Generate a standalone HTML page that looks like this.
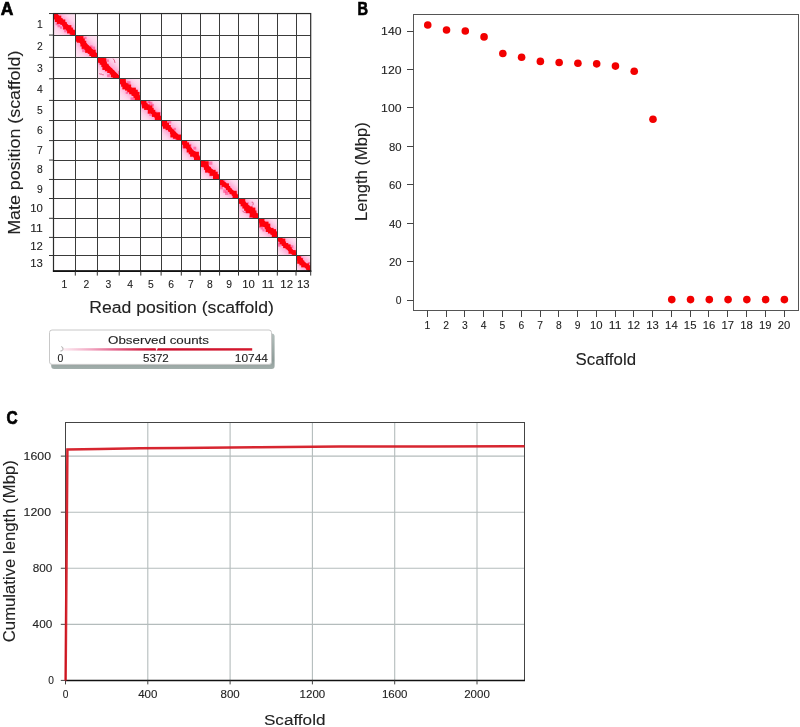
<!DOCTYPE html>
<html><head><meta charset="utf-8"><style>
html,body{margin:0;padding:0;background:#fff;}
body{width:800px;height:727px;overflow:hidden;}
svg{display:block;font-family:"Liberation Sans", sans-serif;will-change:transform;}
</style></head><body>
<svg width="800" height="727" viewBox="0 0 800 727">
<defs>
<linearGradient id="pk" x1="1" y1="0" x2="0" y2="1">
<stop offset="0" stop-color="#fde6f3"/><stop offset="0.5" stop-color="#ffc8e6"/><stop offset="1" stop-color="#fde6f3"/>
</linearGradient>
<linearGradient id="lg" x1="0" y1="0" x2="1" y2="0">
<stop offset="0" stop-color="#fcecf2"/><stop offset="0.14" stop-color="#f2aac4"/><stop offset="0.275" stop-color="#e2628a"/><stop offset="0.41" stop-color="#d42a4a"/><stop offset="0.49" stop-color="#cc1030"/><stop offset="1" stop-color="#d4182c"/>
</linearGradient>
<linearGradient id="shd" x1="0" y1="0" x2="0" y2="1">
<stop offset="0" stop-color="#b4bfbc"/><stop offset="0.75" stop-color="#8e9c99"/><stop offset="1" stop-color="#a3afac"/>
</linearGradient>
<filter id="soft" x="-20%" y="-20%" width="140%" height="140%"><feGaussianBlur stdDeviation="0.7"/></filter><filter id="soft2" x="-30%" y="-30%" width="160%" height="160%"><feGaussianBlur stdDeviation="2"/></filter>
</defs>
<rect x="53.5" y="13.55" width="257.2" height="257.55" fill="#fffeff"/>
<clipPath id="cc0"><rect x="53.50" y="13.55" width="21.80" height="21.52"/></clipPath>
<g clip-path="url(#cc0)">
<rect x="53.50" y="13.55" width="21.80" height="21.52" fill="url(#pk)"/>
<line x1="50.50" y1="10.55" x2="78.30" y2="38.07" stroke="#ff6cb0" stroke-opacity="0.42" stroke-width="11" filter="url(#soft2)"/>
<g filter="url(#soft)">
<rect x="51.95" y="14.66" width="2.41" height="2.41" fill="#ff3a80" opacity="0.55"/>
<rect x="56.47" y="14.19" width="2.30" height="2.30" fill="#ff3a80" opacity="0.55"/>
<rect x="57.37" y="16.81" width="2.71" height="2.71" fill="#ff3a80" opacity="0.55"/>
<rect x="55.62" y="22.30" width="2.91" height="2.91" fill="#ff3a80" opacity="0.55"/>
<rect x="57.50" y="24.47" width="2.81" height="2.81" fill="#ff3a80" opacity="0.55"/>
<rect x="59.97" y="26.42" width="2.33" height="2.33" fill="#ff3a80" opacity="0.55"/>
<rect x="64.13" y="25.16" width="3.36" height="3.36" fill="#ff3a80" opacity="0.55"/>
<rect x="64.25" y="29.83" width="2.51" height="2.51" fill="#ff3a80" opacity="0.55"/>
<rect x="69.55" y="27.45" width="3.53" height="3.53" fill="#ff3a80" opacity="0.55"/>
<rect x="71.54" y="30.17" width="2.76" height="2.76" fill="#ff3a80" opacity="0.55"/>
<rect x="76.80" y="29.34" width="2.27" height="2.27" fill="#ff3a80" opacity="0.55"/>
<line x1="50.50" y1="10.55" x2="78.30" y2="38.07" stroke="#ff000e" stroke-width="4.61"/>
<rect x="52.70" y="11.31" width="5.01" height="5.01" fill="#ff0008"/>
<rect x="53.48" y="14.91" width="4.57" height="4.57" fill="#ff0008"/>
<rect x="54.89" y="15.65" width="6.36" height="6.36" fill="#ff0008"/>
<rect x="56.92" y="18.16" width="5.76" height="5.76" fill="#ff0008"/>
<rect x="60.09" y="19.47" width="5.22" height="5.22" fill="#ff0008"/>
<rect x="62.28" y="22.00" width="4.43" height="4.43" fill="#ff0008"/>
<rect x="63.10" y="24.75" width="4.79" height="4.79" fill="#ff0008"/>
<rect x="66.04" y="25.18" width="5.36" height="5.36" fill="#ff0008"/>
<rect x="67.09" y="27.67" width="5.77" height="5.77" fill="#ff0008"/>
<rect x="69.72" y="29.71" width="5.03" height="5.03" fill="#ff0008"/>
<rect x="71.87" y="30.48" width="6.06" height="6.06" fill="#ff0008"/>
</g>
</g>
<clipPath id="cc1"><rect x="75.30" y="35.07" width="22.00" height="22.18"/></clipPath>
<g clip-path="url(#cc1)">
<rect x="75.30" y="35.07" width="22.00" height="22.18" fill="url(#pk)"/>
<line x1="72.30" y1="32.07" x2="100.30" y2="60.25" stroke="#ff6cb0" stroke-opacity="0.42" stroke-width="11" filter="url(#soft2)"/>
<g filter="url(#soft)">
<rect x="72.77" y="36.44" width="3.00" height="3.00" fill="#ff3a80" opacity="0.55"/>
<rect x="76.53" y="35.94" width="3.43" height="3.43" fill="#ff3a80" opacity="0.55"/>
<rect x="80.33" y="36.65" width="2.60" height="2.60" fill="#ff3a80" opacity="0.55"/>
<rect x="84.18" y="36.71" width="2.37" height="2.37" fill="#ff3a80" opacity="0.55"/>
<rect x="81.30" y="42.38" width="3.26" height="3.26" fill="#ff3a80" opacity="0.55"/>
<rect x="81.30" y="46.44" width="2.88" height="2.88" fill="#ff3a80" opacity="0.55"/>
<rect x="82.15" y="49.02" width="3.14" height="3.14" fill="#ff3a80" opacity="0.55"/>
<rect x="89.56" y="45.42" width="3.00" height="3.00" fill="#ff3a80" opacity="0.55"/>
<rect x="92.42" y="46.61" width="2.64" height="2.64" fill="#ff3a80" opacity="0.55"/>
<rect x="92.68" y="49.63" width="3.03" height="3.03" fill="#ff3a80" opacity="0.55"/>
<rect x="93.74" y="52.45" width="2.84" height="2.84" fill="#ff3a80" opacity="0.55"/>
<rect x="97.21" y="51.98" width="3.52" height="3.52" fill="#ff3a80" opacity="0.55"/>
<line x1="72.30" y1="32.07" x2="100.30" y2="60.25" stroke="#ff000e" stroke-width="4.46"/>
<rect x="73.27" y="33.16" width="5.78" height="5.78" fill="#ff0008"/>
<rect x="74.23" y="35.78" width="5.87" height="5.87" fill="#ff0008"/>
<rect x="76.88" y="36.10" width="6.60" height="6.60" fill="#ff0008"/>
<rect x="79.94" y="38.48" width="4.84" height="4.84" fill="#ff0008"/>
<rect x="80.43" y="40.72" width="5.79" height="5.79" fill="#ff0008"/>
<rect x="81.79" y="43.55" width="5.28" height="5.28" fill="#ff0008"/>
<rect x="84.34" y="45.54" width="4.42" height="4.42" fill="#ff0008"/>
<rect x="85.15" y="46.80" width="6.04" height="6.04" fill="#ff0008"/>
<rect x="87.77" y="49.15" width="4.75" height="4.75" fill="#ff0008"/>
<rect x="89.35" y="49.70" width="6.29" height="6.29" fill="#ff0008"/>
<rect x="91.09" y="52.69" width="5.25" height="5.25" fill="#ff0008"/>
<rect x="93.32" y="53.06" width="6.32" height="6.32" fill="#ff0008"/>
</g>
</g>
<clipPath id="cc2"><rect x="97.30" y="57.25" width="21.90" height="21.55"/></clipPath>
<g clip-path="url(#cc2)">
<rect x="97.30" y="57.25" width="21.90" height="21.55" fill="url(#pk)"/>
<line x1="94.30" y1="54.25" x2="122.20" y2="81.80" stroke="#ff6cb0" stroke-opacity="0.42" stroke-width="11" filter="url(#soft2)"/>
<g filter="url(#soft)">
<rect x="99.02" y="54.10" width="3.41" height="3.41" fill="#ff3a80" opacity="0.55"/>
<rect x="97.21" y="60.48" width="2.78" height="2.78" fill="#ff3a80" opacity="0.55"/>
<rect x="99.48" y="61.50" width="3.44" height="3.44" fill="#ff3a80" opacity="0.55"/>
<rect x="106.54" y="59.42" width="2.41" height="2.41" fill="#ff3a80" opacity="0.55"/>
<rect x="102.54" y="67.26" width="2.52" height="2.52" fill="#ff3a80" opacity="0.55"/>
<rect x="104.78" y="68.61" width="2.88" height="2.88" fill="#ff3a80" opacity="0.55"/>
<rect x="109.63" y="68.02" width="2.57" height="2.57" fill="#ff3a80" opacity="0.55"/>
<rect x="107.07" y="74.32" width="2.79" height="2.79" fill="#ff3a80" opacity="0.55"/>
<rect x="111.73" y="73.40" width="2.99" height="2.99" fill="#ff3a80" opacity="0.55"/>
<rect x="118.07" y="70.83" width="3.17" height="3.17" fill="#ff3a80" opacity="0.55"/>
<rect x="116.79" y="76.17" width="3.06" height="3.06" fill="#ff3a80" opacity="0.55"/>
<line x1="94.30" y1="54.25" x2="122.20" y2="81.80" stroke="#ff000e" stroke-width="4.75"/>
<rect x="96.38" y="55.61" width="4.54" height="4.54" fill="#ff0008"/>
<rect x="97.86" y="56.16" width="6.46" height="6.46" fill="#ff0008"/>
<rect x="99.77" y="58.15" width="6.51" height="6.51" fill="#ff0008"/>
<rect x="101.33" y="61.60" width="5.45" height="5.45" fill="#ff0008"/>
<rect x="102.43" y="63.82" width="6.07" height="6.07" fill="#ff0008"/>
<rect x="105.09" y="66.61" width="4.58" height="4.58" fill="#ff0008"/>
<rect x="107.24" y="68.15" width="4.83" height="4.83" fill="#ff0008"/>
<rect x="109.64" y="69.99" width="4.54" height="4.54" fill="#ff0008"/>
<rect x="110.82" y="72.50" width="4.80" height="4.80" fill="#ff0008"/>
<rect x="112.74" y="73.98" width="5.36" height="5.36" fill="#ff0008"/>
<rect x="113.90" y="75.42" width="6.71" height="6.71" fill="#ff0008"/>
</g>
</g>
<clipPath id="cc3"><rect x="119.20" y="78.80" width="21.60" height="21.60"/></clipPath>
<g clip-path="url(#cc3)">
<rect x="119.20" y="78.80" width="21.60" height="21.60" fill="url(#pk)"/>
<line x1="116.20" y1="75.80" x2="143.80" y2="103.40" stroke="#ff6cb0" stroke-opacity="0.42" stroke-width="11" filter="url(#soft2)"/>
<g filter="url(#soft)">
<rect x="119.84" y="77.71" width="2.41" height="2.41" fill="#ff3a80" opacity="0.55"/>
<rect x="118.92" y="82.29" width="2.69" height="2.69" fill="#ff3a80" opacity="0.55"/>
<rect x="121.89" y="83.56" width="2.37" height="2.37" fill="#ff3a80" opacity="0.55"/>
<rect x="126.93" y="81.23" width="3.59" height="3.59" fill="#ff3a80" opacity="0.55"/>
<rect x="126.34" y="86.46" width="2.88" height="2.88" fill="#ff3a80" opacity="0.55"/>
<rect x="125.68" y="91.58" width="2.34" height="2.34" fill="#ff3a80" opacity="0.55"/>
<rect x="129.48" y="91.47" width="2.57" height="2.57" fill="#ff3a80" opacity="0.55"/>
<rect x="135.21" y="89.81" width="2.43" height="2.43" fill="#ff3a80" opacity="0.55"/>
<rect x="130.50" y="97.35" width="3.53" height="3.53" fill="#ff3a80" opacity="0.55"/>
<rect x="136.87" y="96.04" width="2.41" height="2.41" fill="#ff3a80" opacity="0.55"/>
<rect x="139.03" y="97.97" width="2.24" height="2.24" fill="#ff3a80" opacity="0.55"/>
<line x1="116.20" y1="75.80" x2="143.80" y2="103.40" stroke="#ff000e" stroke-width="4.46"/>
<rect x="116.96" y="76.45" width="6.56" height="6.56" fill="#ff0008"/>
<rect x="119.94" y="78.09" width="5.86" height="5.86" fill="#ff0008"/>
<rect x="121.11" y="81.67" width="5.04" height="5.04" fill="#ff0008"/>
<rect x="122.38" y="83.31" width="6.05" height="6.05" fill="#ff0008"/>
<rect x="125.07" y="84.54" width="6.07" height="6.07" fill="#ff0008"/>
<rect x="127.32" y="87.60" width="4.69" height="4.69" fill="#ff0008"/>
<rect x="129.30" y="87.65" width="6.58" height="6.58" fill="#ff0008"/>
<rect x="131.57" y="89.76" width="6.13" height="6.13" fill="#ff0008"/>
<rect x="133.54" y="91.87" width="5.97" height="5.97" fill="#ff0008"/>
<rect x="134.60" y="95.29" width="5.42" height="5.42" fill="#ff0008"/>
<rect x="137.43" y="97.60" width="4.21" height="4.21" fill="#ff0008"/>
</g>
</g>
<clipPath id="cc4"><rect x="140.80" y="100.40" width="20.30" height="20.16"/></clipPath>
<g clip-path="url(#cc4)">
<rect x="140.80" y="100.40" width="20.30" height="20.16" fill="url(#pk)"/>
<line x1="137.80" y1="97.40" x2="164.10" y2="123.56" stroke="#ff6cb0" stroke-opacity="0.42" stroke-width="11" filter="url(#soft2)"/>
<g filter="url(#soft)">
<rect x="136.84" y="103.61" width="2.59" height="2.59" fill="#ff3a80" opacity="0.55"/>
<rect x="140.15" y="103.39" width="3.17" height="3.17" fill="#ff3a80" opacity="0.55"/>
<rect x="147.47" y="100.10" width="2.83" height="2.83" fill="#ff3a80" opacity="0.55"/>
<rect x="148.79" y="101.70" width="3.58" height="3.58" fill="#ff3a80" opacity="0.55"/>
<rect x="151.21" y="103.83" width="2.71" height="2.71" fill="#ff3a80" opacity="0.55"/>
<rect x="147.57" y="111.35" width="2.52" height="2.52" fill="#ff3a80" opacity="0.55"/>
<rect x="149.25" y="113.37" width="2.49" height="2.49" fill="#ff3a80" opacity="0.55"/>
<rect x="153.85" y="111.47" width="3.46" height="3.46" fill="#ff3a80" opacity="0.55"/>
<rect x="157.64" y="111.96" width="2.87" height="2.87" fill="#ff3a80" opacity="0.55"/>
<rect x="157.83" y="114.99" width="3.32" height="3.32" fill="#ff3a80" opacity="0.55"/>
<rect x="155.46" y="121.24" width="3.12" height="3.12" fill="#ff3a80" opacity="0.55"/>
<line x1="137.80" y1="97.40" x2="164.10" y2="123.56" stroke="#ff000e" stroke-width="4.03"/>
<rect x="139.80" y="97.75" width="5.49" height="5.49" fill="#ff0008"/>
<rect x="141.67" y="100.25" width="4.80" height="4.80" fill="#ff0008"/>
<rect x="142.02" y="102.87" width="5.50" height="5.50" fill="#ff0008"/>
<rect x="144.16" y="104.39" width="5.53" height="5.53" fill="#ff0008"/>
<rect x="147.74" y="105.39" width="4.62" height="4.62" fill="#ff0008"/>
<rect x="147.83" y="107.75" width="5.85" height="5.85" fill="#ff0008"/>
<rect x="151.19" y="109.81" width="4.11" height="4.11" fill="#ff0008"/>
<rect x="151.86" y="112.86" width="4.07" height="4.07" fill="#ff0008"/>
<rect x="154.53" y="112.40" width="5.54" height="5.54" fill="#ff0008"/>
<rect x="154.83" y="115.73" width="5.58" height="5.58" fill="#ff0008"/>
<rect x="158.54" y="116.08" width="5.21" height="5.21" fill="#ff0008"/>
</g>
</g>
<clipPath id="cc5"><rect x="161.10" y="120.56" width="20.20" height="20.04"/></clipPath>
<g clip-path="url(#cc5)">
<rect x="161.10" y="120.56" width="20.20" height="20.04" fill="url(#pk)"/>
<line x1="158.10" y1="117.56" x2="184.30" y2="143.60" stroke="#ff6cb0" stroke-opacity="0.42" stroke-width="11" filter="url(#soft2)"/>
<g filter="url(#soft)">
<rect x="159.49" y="121.21" width="2.97" height="2.97" fill="#ff3a80" opacity="0.55"/>
<rect x="160.22" y="125.26" width="2.22" height="2.22" fill="#ff3a80" opacity="0.55"/>
<rect x="168.17" y="120.44" width="3.11" height="3.11" fill="#ff3a80" opacity="0.55"/>
<rect x="166.62" y="125.62" width="3.51" height="3.51" fill="#ff3a80" opacity="0.55"/>
<rect x="167.98" y="128.37" width="3.42" height="3.42" fill="#ff3a80" opacity="0.55"/>
<rect x="173.44" y="127.86" width="2.50" height="2.50" fill="#ff3a80" opacity="0.55"/>
<rect x="171.04" y="134.17" width="2.61" height="2.61" fill="#ff3a80" opacity="0.55"/>
<rect x="172.77" y="136.05" width="3.02" height="3.02" fill="#ff3a80" opacity="0.55"/>
<rect x="175.05" y="138.03" width="2.79" height="2.79" fill="#ff3a80" opacity="0.55"/>
<rect x="175.75" y="140.66" width="3.47" height="3.47" fill="#ff3a80" opacity="0.55"/>
<line x1="158.10" y1="117.56" x2="184.30" y2="143.60" stroke="#ff000e" stroke-width="4.18"/>
<rect x="159.35" y="119.39" width="4.93" height="4.93" fill="#ff0008"/>
<rect x="161.31" y="120.42" width="5.96" height="5.96" fill="#ff0008"/>
<rect x="162.99" y="122.73" width="6.00" height="6.00" fill="#ff0008"/>
<rect x="165.62" y="125.02" width="5.10" height="5.10" fill="#ff0008"/>
<rect x="168.28" y="127.58" width="3.91" height="3.91" fill="#ff0008"/>
<rect x="169.94" y="129.56" width="4.29" height="4.29" fill="#ff0008"/>
<rect x="170.38" y="131.72" width="5.72" height="5.72" fill="#ff0008"/>
<rect x="173.11" y="133.76" width="4.97" height="4.97" fill="#ff0008"/>
<rect x="176.14" y="134.56" width="5.16" height="5.16" fill="#ff0008"/>
<rect x="177.41" y="137.41" width="5.07" height="5.07" fill="#ff0008"/>
</g>
</g>
<clipPath id="cc6"><rect x="181.30" y="140.60" width="18.90" height="19.45"/></clipPath>
<g clip-path="url(#cc6)">
<rect x="181.30" y="140.60" width="18.90" height="19.45" fill="url(#pk)"/>
<line x1="178.30" y1="137.60" x2="203.20" y2="163.05" stroke="#ff6cb0" stroke-opacity="0.42" stroke-width="11" filter="url(#soft2)"/>
<g filter="url(#soft)">
<rect x="181.02" y="139.50" width="3.30" height="3.30" fill="#ff3a80" opacity="0.55"/>
<rect x="179.65" y="145.02" width="2.98" height="2.98" fill="#ff3a80" opacity="0.55"/>
<rect x="182.82" y="146.08" width="2.59" height="2.59" fill="#ff3a80" opacity="0.55"/>
<rect x="188.53" y="143.88" width="2.91" height="2.91" fill="#ff3a80" opacity="0.55"/>
<rect x="188.64" y="147.25" width="3.26" height="3.26" fill="#ff3a80" opacity="0.55"/>
<rect x="193.42" y="146.75" width="2.82" height="2.82" fill="#ff3a80" opacity="0.55"/>
<rect x="192.99" y="150.93" width="2.91" height="2.91" fill="#ff3a80" opacity="0.55"/>
<rect x="193.98" y="153.51" width="3.17" height="3.17" fill="#ff3a80" opacity="0.55"/>
<rect x="195.53" y="156.02" width="2.95" height="2.95" fill="#ff3a80" opacity="0.55"/>
<rect x="197.33" y="157.49" width="3.52" height="3.52" fill="#ff3a80" opacity="0.55"/>
<line x1="178.30" y1="137.60" x2="203.20" y2="163.05" stroke="#ff000e" stroke-width="4.03"/>
<rect x="179.80" y="138.33" width="5.70" height="5.70" fill="#ff0008"/>
<rect x="182.86" y="140.48" width="4.31" height="4.31" fill="#ff0008"/>
<rect x="183.22" y="142.42" width="5.85" height="5.85" fill="#ff0008"/>
<rect x="186.57" y="144.71" width="4.04" height="4.04" fill="#ff0008"/>
<rect x="186.69" y="147.75" width="4.72" height="4.72" fill="#ff0008"/>
<rect x="188.70" y="150.02" width="4.27" height="4.27" fill="#ff0008"/>
<rect x="190.11" y="151.48" width="5.23" height="5.23" fill="#ff0008"/>
<rect x="193.17" y="151.75" width="5.74" height="5.74" fill="#ff0008"/>
<rect x="194.01" y="155.15" width="5.34" height="5.34" fill="#ff0008"/>
<rect x="197.55" y="156.73" width="4.05" height="4.05" fill="#ff0008"/>
</g>
</g>
<clipPath id="cc7"><rect x="200.20" y="160.05" width="19.40" height="19.40"/></clipPath>
<g clip-path="url(#cc7)">
<rect x="200.20" y="160.05" width="19.40" height="19.40" fill="url(#pk)"/>
<line x1="197.20" y1="157.05" x2="222.60" y2="182.45" stroke="#ff6cb0" stroke-opacity="0.42" stroke-width="11" filter="url(#soft2)"/>
<g filter="url(#soft)">
<rect x="202.30" y="156.33" width="3.55" height="3.55" fill="#ff3a80" opacity="0.55"/>
<rect x="199.21" y="163.32" width="3.53" height="3.53" fill="#ff3a80" opacity="0.55"/>
<rect x="202.84" y="164.23" width="2.88" height="2.88" fill="#ff3a80" opacity="0.55"/>
<rect x="209.03" y="161.43" width="3.37" height="3.37" fill="#ff3a80" opacity="0.55"/>
<rect x="204.96" y="169.95" width="2.80" height="2.80" fill="#ff3a80" opacity="0.55"/>
<rect x="209.65" y="169.26" width="2.67" height="2.67" fill="#ff3a80" opacity="0.55"/>
<rect x="209.17" y="173.65" width="2.65" height="2.65" fill="#ff3a80" opacity="0.55"/>
<rect x="215.32" y="171.80" width="2.23" height="2.23" fill="#ff3a80" opacity="0.55"/>
<rect x="215.69" y="174.72" width="2.82" height="2.82" fill="#ff3a80" opacity="0.55"/>
<rect x="213.64" y="180.81" width="2.66" height="2.66" fill="#ff3a80" opacity="0.55"/>
<line x1="197.20" y1="157.05" x2="222.60" y2="182.45" stroke="#ff000e" stroke-width="4.18"/>
<rect x="198.89" y="158.24" width="5.06" height="5.06" fill="#ff0008"/>
<rect x="199.16" y="160.76" width="6.15" height="6.15" fill="#ff0008"/>
<rect x="202.57" y="161.26" width="6.12" height="6.12" fill="#ff0008"/>
<rect x="203.96" y="165.39" width="4.48" height="4.48" fill="#ff0008"/>
<rect x="205.17" y="166.86" width="5.67" height="5.67" fill="#ff0008"/>
<rect x="208.33" y="169.10" width="4.17" height="4.17" fill="#ff0008"/>
<rect x="209.66" y="169.82" width="5.98" height="5.98" fill="#ff0008"/>
<rect x="213.15" y="171.73" width="4.47" height="4.47" fill="#ff0008"/>
<rect x="212.99" y="174.24" width="6.00" height="6.00" fill="#ff0008"/>
<rect x="216.03" y="175.59" width="5.49" height="5.49" fill="#ff0008"/>
</g>
</g>
<clipPath id="cc8"><rect x="219.60" y="179.45" width="18.90" height="19.05"/></clipPath>
<g clip-path="url(#cc8)">
<rect x="219.60" y="179.45" width="18.90" height="19.05" fill="url(#pk)"/>
<line x1="216.60" y1="176.45" x2="241.50" y2="201.50" stroke="#ff6cb0" stroke-opacity="0.42" stroke-width="11" filter="url(#soft2)"/>
<g filter="url(#soft)">
<rect x="216.28" y="182.38" width="2.28" height="2.28" fill="#ff3a80" opacity="0.55"/>
<rect x="222.47" y="179.48" width="2.80" height="2.80" fill="#ff3a80" opacity="0.55"/>
<rect x="219.32" y="185.71" width="3.51" height="3.51" fill="#ff3a80" opacity="0.55"/>
<rect x="225.58" y="183.43" width="3.32" height="3.32" fill="#ff3a80" opacity="0.55"/>
<rect x="223.24" y="189.49" width="3.40" height="3.40" fill="#ff3a80" opacity="0.55"/>
<rect x="225.00" y="191.52" width="3.41" height="3.41" fill="#ff3a80" opacity="0.55"/>
<rect x="230.20" y="190.85" width="2.67" height="2.67" fill="#ff3a80" opacity="0.55"/>
<rect x="232.43" y="191.59" width="3.50" height="3.50" fill="#ff3a80" opacity="0.55"/>
<rect x="232.71" y="196.22" width="2.38" height="2.38" fill="#ff3a80" opacity="0.55"/>
<rect x="236.49" y="196.08" width="2.53" height="2.53" fill="#ff3a80" opacity="0.55"/>
<line x1="216.60" y1="176.45" x2="241.50" y2="201.50" stroke="#ff000e" stroke-width="4.03"/>
<rect x="217.72" y="179.14" width="4.09" height="4.09" fill="#ff0008"/>
<rect x="219.44" y="181.11" width="4.19" height="4.19" fill="#ff0008"/>
<rect x="221.74" y="182.38" width="4.42" height="4.42" fill="#ff0008"/>
<rect x="224.54" y="183.41" width="4.38" height="4.38" fill="#ff0008"/>
<rect x="226.04" y="185.96" width="4.13" height="4.13" fill="#ff0008"/>
<rect x="227.80" y="188.35" width="3.77" height="3.77" fill="#ff0008"/>
<rect x="229.50" y="190.45" width="3.77" height="3.77" fill="#ff0008"/>
<rect x="231.76" y="190.79" width="4.97" height="4.97" fill="#ff0008"/>
<rect x="232.65" y="193.87" width="4.80" height="4.80" fill="#ff0008"/>
<rect x="236.44" y="194.69" width="3.97" height="3.97" fill="#ff0008"/>
</g>
</g>
<clipPath id="cc9"><rect x="238.50" y="198.50" width="20.10" height="19.80"/></clipPath>
<g clip-path="url(#cc9)">
<rect x="238.50" y="198.50" width="20.10" height="19.80" fill="url(#pk)"/>
<line x1="235.50" y1="195.50" x2="261.60" y2="221.30" stroke="#ff6cb0" stroke-opacity="0.42" stroke-width="11" filter="url(#soft2)"/>
<g filter="url(#soft)">
<rect x="240.53" y="195.66" width="2.81" height="2.81" fill="#ff3a80" opacity="0.55"/>
<rect x="239.79" y="199.82" width="3.37" height="3.37" fill="#ff3a80" opacity="0.55"/>
<rect x="241.26" y="202.81" width="2.91" height="2.91" fill="#ff3a80" opacity="0.55"/>
<rect x="245.17" y="202.22" width="3.58" height="3.58" fill="#ff3a80" opacity="0.55"/>
<rect x="244.67" y="206.92" width="3.37" height="3.37" fill="#ff3a80" opacity="0.55"/>
<rect x="249.58" y="206.27" width="3.09" height="3.09" fill="#ff3a80" opacity="0.55"/>
<rect x="249.50" y="210.75" width="2.69" height="2.69" fill="#ff3a80" opacity="0.55"/>
<rect x="249.00" y="215.55" width="2.38" height="2.38" fill="#ff3a80" opacity="0.55"/>
<rect x="250.70" y="216.97" width="3.24" height="3.24" fill="#ff3a80" opacity="0.55"/>
<rect x="254.52" y="217.95" width="2.43" height="2.43" fill="#ff3a80" opacity="0.55"/>
<line x1="235.50" y1="195.50" x2="261.60" y2="221.30" stroke="#ff000e" stroke-width="4.61"/>
<rect x="235.46" y="197.11" width="6.42" height="6.42" fill="#ff0008"/>
<rect x="239.26" y="197.74" width="5.98" height="5.98" fill="#ff0008"/>
<rect x="240.65" y="201.44" width="4.89" height="4.89" fill="#ff0008"/>
<rect x="242.40" y="203.12" width="5.44" height="5.44" fill="#ff0008"/>
<rect x="244.16" y="205.39" width="5.41" height="5.41" fill="#ff0008"/>
<rect x="245.72" y="206.50" width="6.73" height="6.73" fill="#ff0008"/>
<rect x="249.68" y="207.59" width="5.67" height="5.67" fill="#ff0008"/>
<rect x="249.69" y="210.49" width="6.74" height="6.74" fill="#ff0008"/>
<rect x="252.61" y="213.12" width="5.18" height="5.18" fill="#ff0008"/>
<rect x="253.98" y="215.69" width="5.24" height="5.24" fill="#ff0008"/>
</g>
</g>
<clipPath id="cc10"><rect x="258.60" y="218.30" width="18.70" height="19.10"/></clipPath>
<g clip-path="url(#cc10)">
<rect x="258.60" y="218.30" width="18.70" height="19.10" fill="url(#pk)"/>
<line x1="255.60" y1="215.30" x2="280.30" y2="240.40" stroke="#ff6cb0" stroke-opacity="0.42" stroke-width="11" filter="url(#soft2)"/>
<g filter="url(#soft)">
<rect x="257.89" y="218.00" width="2.90" height="2.90" fill="#ff3a80" opacity="0.55"/>
<rect x="257.68" y="221.98" width="2.91" height="2.91" fill="#ff3a80" opacity="0.55"/>
<rect x="258.23" y="225.55" width="2.57" height="2.57" fill="#ff3a80" opacity="0.55"/>
<rect x="260.65" y="226.72" width="2.76" height="2.76" fill="#ff3a80" opacity="0.55"/>
<rect x="262.42" y="229.26" width="2.23" height="2.23" fill="#ff3a80" opacity="0.55"/>
<rect x="266.13" y="229.03" width="2.53" height="2.53" fill="#ff3a80" opacity="0.55"/>
<rect x="269.94" y="228.59" width="2.94" height="2.94" fill="#ff3a80" opacity="0.55"/>
<rect x="272.97" y="229.16" width="3.12" height="3.12" fill="#ff3a80" opacity="0.55"/>
<rect x="274.42" y="231.18" width="3.43" height="3.43" fill="#ff3a80" opacity="0.55"/>
<rect x="274.20" y="235.96" width="2.66" height="2.66" fill="#ff3a80" opacity="0.55"/>
<line x1="255.60" y1="215.30" x2="280.30" y2="240.40" stroke="#ff000e" stroke-width="4.03"/>
<rect x="258.47" y="216.25" width="4.07" height="4.07" fill="#ff0008"/>
<rect x="259.27" y="218.13" width="5.17" height="5.17" fill="#ff0008"/>
<rect x="259.56" y="221.19" width="5.60" height="5.60" fill="#ff0008"/>
<rect x="263.36" y="221.63" width="5.14" height="5.14" fill="#ff0008"/>
<rect x="264.71" y="223.65" width="5.55" height="5.55" fill="#ff0008"/>
<rect x="265.71" y="227.07" width="4.91" height="4.91" fill="#ff0008"/>
<rect x="267.96" y="227.90" width="5.60" height="5.60" fill="#ff0008"/>
<rect x="270.44" y="229.22" width="5.58" height="5.58" fill="#ff0008"/>
<rect x="271.80" y="231.50" width="5.73" height="5.73" fill="#ff0008"/>
<rect x="274.09" y="233.44" width="5.29" height="5.29" fill="#ff0008"/>
</g>
</g>
<clipPath id="cc11"><rect x="277.30" y="237.40" width="18.70" height="18.10"/></clipPath>
<g clip-path="url(#cc11)">
<rect x="277.30" y="237.40" width="18.70" height="18.10" fill="url(#pk)"/>
<line x1="274.30" y1="234.40" x2="299.00" y2="258.50" stroke="#ff6cb0" stroke-opacity="0.42" stroke-width="11" filter="url(#soft2)"/>
<g filter="url(#soft)">
<rect x="275.06" y="239.24" width="2.24" height="2.24" fill="#ff3a80" opacity="0.55"/>
<rect x="275.96" y="241.55" width="2.70" height="2.70" fill="#ff3a80" opacity="0.55"/>
<rect x="277.29" y="243.24" width="3.37" height="3.37" fill="#ff3a80" opacity="0.55"/>
<rect x="282.75" y="241.75" width="3.08" height="3.08" fill="#ff3a80" opacity="0.55"/>
<rect x="285.10" y="243.01" width="3.15" height="3.15" fill="#ff3a80" opacity="0.55"/>
<rect x="286.40" y="246.33" width="2.20" height="2.20" fill="#ff3a80" opacity="0.55"/>
<rect x="290.09" y="245.28" width="3.25" height="3.25" fill="#ff3a80" opacity="0.55"/>
<rect x="289.87" y="249.48" width="2.95" height="2.95" fill="#ff3a80" opacity="0.55"/>
<rect x="293.26" y="250.43" width="2.29" height="2.29" fill="#ff3a80" opacity="0.55"/>
<rect x="295.59" y="251.52" width="2.55" height="2.55" fill="#ff3a80" opacity="0.55"/>
<line x1="274.30" y1="234.40" x2="299.00" y2="258.50" stroke="#ff000e" stroke-width="3.89"/>
<rect x="275.30" y="237.07" width="4.17" height="4.17" fill="#ff0008"/>
<rect x="278.54" y="237.63" width="4.04" height="4.04" fill="#ff0008"/>
<rect x="279.60" y="238.59" width="5.71" height="5.71" fill="#ff0008"/>
<rect x="281.62" y="241.53" width="4.43" height="4.43" fill="#ff0008"/>
<rect x="283.13" y="243.05" width="5.08" height="5.08" fill="#ff0008"/>
<rect x="285.65" y="244.35" width="4.93" height="4.93" fill="#ff0008"/>
<rect x="287.86" y="247.00" width="3.77" height="3.77" fill="#ff0008"/>
<rect x="288.55" y="249.61" width="4.15" height="4.15" fill="#ff0008"/>
<rect x="291.55" y="250.17" width="4.26" height="4.26" fill="#ff0008"/>
<rect x="293.39" y="252.65" width="3.63" height="3.63" fill="#ff0008"/>
</g>
</g>
<clipPath id="cc12"><rect x="296.00" y="255.50" width="14.70" height="15.60"/></clipPath>
<g clip-path="url(#cc12)">
<rect x="296.00" y="255.50" width="14.70" height="15.60" fill="url(#pk)"/>
<line x1="293.00" y1="252.50" x2="313.70" y2="274.10" stroke="#ff6cb0" stroke-opacity="0.42" stroke-width="11" filter="url(#soft2)"/>
<g filter="url(#soft)">
<rect x="292.29" y="258.53" width="2.58" height="2.58" fill="#ff3a80" opacity="0.55"/>
<rect x="298.48" y="255.53" width="3.17" height="3.17" fill="#ff3a80" opacity="0.55"/>
<rect x="300.63" y="257.74" width="2.61" height="2.61" fill="#ff3a80" opacity="0.55"/>
<rect x="301.13" y="260.77" width="2.85" height="2.85" fill="#ff3a80" opacity="0.55"/>
<rect x="302.83" y="263.35" width="2.37" height="2.37" fill="#ff3a80" opacity="0.55"/>
<rect x="307.86" y="261.99" width="2.48" height="2.48" fill="#ff3a80" opacity="0.55"/>
<rect x="309.82" y="262.79" width="3.51" height="3.51" fill="#ff3a80" opacity="0.55"/>
<rect x="304.69" y="272.37" width="2.84" height="2.84" fill="#ff3a80" opacity="0.55"/>
<line x1="293.00" y1="252.50" x2="313.70" y2="274.10" stroke="#ff000e" stroke-width="3.89"/>
<rect x="294.71" y="252.99" width="5.69" height="5.69" fill="#ff0008"/>
<rect x="296.57" y="256.44" width="4.18" height="4.18" fill="#ff0008"/>
<rect x="297.19" y="258.13" width="5.64" height="5.64" fill="#ff0008"/>
<rect x="299.42" y="260.48" width="4.86" height="4.86" fill="#ff0008"/>
<rect x="301.19" y="262.63" width="4.73" height="4.73" fill="#ff0008"/>
<rect x="305.07" y="263.38" width="3.89" height="3.89" fill="#ff0008"/>
<rect x="306.23" y="265.19" width="4.70" height="4.70" fill="#ff0008"/>
<rect x="308.00" y="266.79" width="5.12" height="5.12" fill="#ff0008"/>
</g>
</g>
<g fill="none" stroke="#d0104a" stroke-width="0.8" opacity="0.75" filter="url(#soft)">
<path d="M112.8 58.8 q1.6 0.6 1.8 2.2 q-0.2 1.2 0.6 2"/>
<path d="M99.2 73.6 q1.2 0.6 2.6 0.6 q0.8 0.8 2 0.6"/>
<path d="M251.6 202.2 q1.4 -0.6 1.6 1 q0.2 1.4 -0.8 2.2"/>
<path d="M242.6 210.8 q0.6 1.4 1.8 1.6 q1.2 -0.8 2.4 0"/>
</g>
<line x1="75.50" y1="13.55" x2="75.50" y2="271.1" stroke="#3a3a3a" stroke-width="1.0"/>
<line x1="53.5" y1="35.50" x2="310.7" y2="35.50" stroke="#3a3a3a" stroke-width="1.0"/>
<line x1="97.50" y1="13.55" x2="97.50" y2="271.1" stroke="#3a3a3a" stroke-width="1.0"/>
<line x1="53.5" y1="57.50" x2="310.7" y2="57.50" stroke="#3a3a3a" stroke-width="1.0"/>
<line x1="119.50" y1="13.55" x2="119.50" y2="271.1" stroke="#3a3a3a" stroke-width="1.0"/>
<line x1="53.5" y1="78.50" x2="310.7" y2="78.50" stroke="#3a3a3a" stroke-width="1.0"/>
<line x1="140.50" y1="13.55" x2="140.50" y2="271.1" stroke="#3a3a3a" stroke-width="1.0"/>
<line x1="53.5" y1="100.50" x2="310.7" y2="100.50" stroke="#3a3a3a" stroke-width="1.0"/>
<line x1="161.50" y1="13.55" x2="161.50" y2="271.1" stroke="#3a3a3a" stroke-width="1.0"/>
<line x1="53.5" y1="120.50" x2="310.7" y2="120.50" stroke="#3a3a3a" stroke-width="1.0"/>
<line x1="181.50" y1="13.55" x2="181.50" y2="271.1" stroke="#3a3a3a" stroke-width="1.0"/>
<line x1="53.5" y1="140.50" x2="310.7" y2="140.50" stroke="#3a3a3a" stroke-width="1.0"/>
<line x1="200.50" y1="13.55" x2="200.50" y2="271.1" stroke="#3a3a3a" stroke-width="1.0"/>
<line x1="53.5" y1="160.50" x2="310.7" y2="160.50" stroke="#3a3a3a" stroke-width="1.0"/>
<line x1="219.50" y1="13.55" x2="219.50" y2="271.1" stroke="#3a3a3a" stroke-width="1.0"/>
<line x1="53.5" y1="179.50" x2="310.7" y2="179.50" stroke="#3a3a3a" stroke-width="1.0"/>
<line x1="238.50" y1="13.55" x2="238.50" y2="271.1" stroke="#3a3a3a" stroke-width="1.0"/>
<line x1="53.5" y1="198.50" x2="310.7" y2="198.50" stroke="#3a3a3a" stroke-width="1.0"/>
<line x1="258.50" y1="13.55" x2="258.50" y2="271.1" stroke="#3a3a3a" stroke-width="1.0"/>
<line x1="53.5" y1="218.50" x2="310.7" y2="218.50" stroke="#3a3a3a" stroke-width="1.0"/>
<line x1="277.50" y1="13.55" x2="277.50" y2="271.1" stroke="#3a3a3a" stroke-width="1.0"/>
<line x1="53.5" y1="237.50" x2="310.7" y2="237.50" stroke="#3a3a3a" stroke-width="1.0"/>
<line x1="296.50" y1="13.55" x2="296.50" y2="271.1" stroke="#3a3a3a" stroke-width="1.0"/>
<line x1="53.5" y1="255.50" x2="310.7" y2="255.50" stroke="#3a3a3a" stroke-width="1.0"/>
<rect x="53.5" y="13.55" width="257.2" height="257.55" fill="none" stroke="#2a2a2a" stroke-width="1.2"/>
<line x1="52.9" y1="271.1" x2="311.3" y2="271.1" stroke="#111" stroke-width="1.6"/>
<line x1="49" y1="13.55" x2="53.5" y2="13.55" stroke="#333" stroke-width="1"/>
<line x1="75.30" y1="271.1" x2="75.30" y2="275.6" stroke="#333" stroke-width="1"/>
<line x1="49" y1="35.07" x2="53.5" y2="35.07" stroke="#333" stroke-width="1"/>
<line x1="97.30" y1="271.1" x2="97.30" y2="275.6" stroke="#333" stroke-width="1"/>
<line x1="49" y1="57.25" x2="53.5" y2="57.25" stroke="#333" stroke-width="1"/>
<line x1="119.20" y1="271.1" x2="119.20" y2="275.6" stroke="#333" stroke-width="1"/>
<line x1="49" y1="78.80" x2="53.5" y2="78.80" stroke="#333" stroke-width="1"/>
<line x1="140.80" y1="271.1" x2="140.80" y2="275.6" stroke="#333" stroke-width="1"/>
<line x1="49" y1="100.40" x2="53.5" y2="100.40" stroke="#333" stroke-width="1"/>
<line x1="161.10" y1="271.1" x2="161.10" y2="275.6" stroke="#333" stroke-width="1"/>
<line x1="49" y1="120.56" x2="53.5" y2="120.56" stroke="#333" stroke-width="1"/>
<line x1="181.30" y1="271.1" x2="181.30" y2="275.6" stroke="#333" stroke-width="1"/>
<line x1="49" y1="140.60" x2="53.5" y2="140.60" stroke="#333" stroke-width="1"/>
<line x1="200.20" y1="271.1" x2="200.20" y2="275.6" stroke="#333" stroke-width="1"/>
<line x1="49" y1="160.05" x2="53.5" y2="160.05" stroke="#333" stroke-width="1"/>
<line x1="219.60" y1="271.1" x2="219.60" y2="275.6" stroke="#333" stroke-width="1"/>
<line x1="49" y1="179.45" x2="53.5" y2="179.45" stroke="#333" stroke-width="1"/>
<line x1="238.50" y1="271.1" x2="238.50" y2="275.6" stroke="#333" stroke-width="1"/>
<line x1="49" y1="198.50" x2="53.5" y2="198.50" stroke="#333" stroke-width="1"/>
<line x1="258.60" y1="271.1" x2="258.60" y2="275.6" stroke="#333" stroke-width="1"/>
<line x1="49" y1="218.30" x2="53.5" y2="218.30" stroke="#333" stroke-width="1"/>
<line x1="277.30" y1="271.1" x2="277.30" y2="275.6" stroke="#333" stroke-width="1"/>
<line x1="49" y1="237.40" x2="53.5" y2="237.40" stroke="#333" stroke-width="1"/>
<line x1="296.00" y1="271.1" x2="296.00" y2="275.6" stroke="#333" stroke-width="1"/>
<line x1="49" y1="255.50" x2="53.5" y2="255.50" stroke="#333" stroke-width="1"/>
<line x1="310.70" y1="271.1" x2="310.70" y2="275.6" stroke="#333" stroke-width="1"/>
<text x="42.80" y="28.01" font-size="10.3" text-anchor="end" fill="#222" stroke="#222" stroke-width="0.1" >1</text>
<text x="64.40" y="288.20" font-size="10.3" text-anchor="middle" fill="#222" stroke="#222" stroke-width="0.1" >1</text>
<text x="42.80" y="49.86" font-size="10.3" text-anchor="end" fill="#222" stroke="#222" stroke-width="0.1" >2</text>
<text x="86.30" y="288.20" font-size="10.3" text-anchor="middle" fill="#222" stroke="#222" stroke-width="0.1" >2</text>
<text x="42.80" y="71.73" font-size="10.3" text-anchor="end" fill="#222" stroke="#222" stroke-width="0.1" >3</text>
<text x="108.25" y="288.20" font-size="10.3" text-anchor="middle" fill="#222" stroke="#222" stroke-width="0.1" >3</text>
<text x="42.80" y="93.30" font-size="10.3" text-anchor="end" fill="#222" stroke="#222" stroke-width="0.1" >4</text>
<text x="130.00" y="288.20" font-size="10.3" text-anchor="middle" fill="#222" stroke="#222" stroke-width="0.1" >4</text>
<text x="42.80" y="114.18" font-size="10.3" text-anchor="end" fill="#222" stroke="#222" stroke-width="0.1" >5</text>
<text x="150.95" y="288.20" font-size="10.3" text-anchor="middle" fill="#222" stroke="#222" stroke-width="0.1" >5</text>
<text x="42.80" y="134.28" font-size="10.3" text-anchor="end" fill="#222" stroke="#222" stroke-width="0.1" >6</text>
<text x="171.20" y="288.20" font-size="10.3" text-anchor="middle" fill="#222" stroke="#222" stroke-width="0.1" >6</text>
<text x="42.80" y="154.02" font-size="10.3" text-anchor="end" fill="#222" stroke="#222" stroke-width="0.1" >7</text>
<text x="190.75" y="288.20" font-size="10.3" text-anchor="middle" fill="#222" stroke="#222" stroke-width="0.1" >7</text>
<text x="42.80" y="173.45" font-size="10.3" text-anchor="end" fill="#222" stroke="#222" stroke-width="0.1" >8</text>
<text x="209.90" y="288.20" font-size="10.3" text-anchor="middle" fill="#222" stroke="#222" stroke-width="0.1" >8</text>
<text x="42.80" y="192.67" font-size="10.3" text-anchor="end" fill="#222" stroke="#222" stroke-width="0.1" >9</text>
<text x="229.05" y="288.20" font-size="10.3" text-anchor="middle" fill="#222" stroke="#222" stroke-width="0.1" >9</text>
<text x="42.80" y="212.10" font-size="10.3" text-anchor="end" fill="#222" textLength="12.60" lengthAdjust="spacingAndGlyphs" stroke="#222" stroke-width="0.1" >10</text>
<text x="248.55" y="288.20" font-size="10.3" text-anchor="middle" fill="#222" textLength="12.60" lengthAdjust="spacingAndGlyphs" stroke="#222" stroke-width="0.1" >10</text>
<text x="42.80" y="231.55" font-size="10.3" text-anchor="end" fill="#222" textLength="12.60" lengthAdjust="spacingAndGlyphs" stroke="#222" stroke-width="0.1" >11</text>
<text x="267.95" y="288.20" font-size="10.3" text-anchor="middle" fill="#222" textLength="12.60" lengthAdjust="spacingAndGlyphs" stroke="#222" stroke-width="0.1" >11</text>
<text x="42.80" y="250.15" font-size="10.3" text-anchor="end" fill="#222" textLength="12.60" lengthAdjust="spacingAndGlyphs" stroke="#222" stroke-width="0.1" >12</text>
<text x="286.65" y="288.20" font-size="10.3" text-anchor="middle" fill="#222" textLength="12.60" lengthAdjust="spacingAndGlyphs" stroke="#222" stroke-width="0.1" >12</text>
<text x="42.80" y="267.00" font-size="10.3" text-anchor="end" fill="#222" textLength="12.60" lengthAdjust="spacingAndGlyphs" stroke="#222" stroke-width="0.1" >13</text>
<text x="303.35" y="288.20" font-size="10.3" text-anchor="middle" fill="#222" textLength="12.60" lengthAdjust="spacingAndGlyphs" stroke="#222" stroke-width="0.1" >13</text>
<text x="89.20" y="313.40" font-size="15.8" text-anchor="start" fill="#222" textLength="184.60" lengthAdjust="spacingAndGlyphs" stroke="#222" stroke-width="0.1" >Read position (scaffold)</text>
<text x="19.70" y="234.80" font-size="16.1" text-anchor="start" fill="#222" textLength="184.20" lengthAdjust="spacingAndGlyphs" transform="rotate(-90 19.70 234.80)" stroke="#222" stroke-width="0.1" >Mate position (scaffold)</text>
<text x="0.80" y="14.80" font-size="18.4" text-anchor="start" fill="#000" font-weight="bold" textLength="12.60" lengthAdjust="spacingAndGlyphs" stroke="#000" stroke-width="0.7">A</text>
<rect x="51.2" y="333.5" width="223.4" height="35.5" rx="3" fill="url(#shd)"/>
<rect x="49.5" y="330" width="222" height="34.4" rx="2.5" fill="#fff" stroke="#c8c8c8" stroke-width="1"/>
<text x="108.00" y="343.75" font-size="11.8" text-anchor="start" fill="#222" textLength="101.00" lengthAdjust="spacingAndGlyphs" stroke="#222" stroke-width="0.1" >Observed counts</text>
<rect x="63" y="348.2" width="189.2" height="2.4" fill="url(#lg)"/>
<path d="M155.4 347.6 L158.2 347.6 L156.4 351.2 Z" fill="#fff" opacity="0.9"/>
<path d="M61.2 346.6 A2 2 0 0 1 60.4 351" fill="none" stroke="#999" stroke-width="0.8"/>
<text x="57.50" y="361.50" font-size="10.5" text-anchor="start" fill="#222" stroke="#222" stroke-width="0.1" >0</text>
<text x="143.00" y="361.50" font-size="10.5" text-anchor="start" fill="#222" textLength="25.80" lengthAdjust="spacingAndGlyphs" stroke="#222" stroke-width="0.1" >5372</text>
<text x="234.80" y="361.50" font-size="10.5" text-anchor="start" fill="#222" textLength="33.20" lengthAdjust="spacingAndGlyphs" stroke="#222" stroke-width="0.1" >10744</text>
<rect x="413.5" y="14.5" width="385.0" height="296.0" fill="#fff" stroke="#555" stroke-width="1"/>
<line x1="407" y1="300.50" x2="413.5" y2="300.50" stroke="#444" stroke-width="1"/>
<text x="401.50" y="304.40" font-size="10.3" text-anchor="end" fill="#222" stroke="#222" stroke-width="0.1" >0</text>
<line x1="407" y1="261.50" x2="413.5" y2="261.50" stroke="#444" stroke-width="1"/>
<text x="401.50" y="265.98" font-size="10.3" text-anchor="end" fill="#222" textLength="12.60" lengthAdjust="spacingAndGlyphs" stroke="#222" stroke-width="0.1" >20</text>
<line x1="407" y1="223.50" x2="413.5" y2="223.50" stroke="#444" stroke-width="1"/>
<text x="401.50" y="227.56" font-size="10.3" text-anchor="end" fill="#222" textLength="12.60" lengthAdjust="spacingAndGlyphs" stroke="#222" stroke-width="0.1" >40</text>
<line x1="407" y1="184.50" x2="413.5" y2="184.50" stroke="#444" stroke-width="1"/>
<text x="401.50" y="189.14" font-size="10.3" text-anchor="end" fill="#222" textLength="12.60" lengthAdjust="spacingAndGlyphs" stroke="#222" stroke-width="0.1" >60</text>
<line x1="407" y1="146.50" x2="413.5" y2="146.50" stroke="#444" stroke-width="1"/>
<text x="401.50" y="150.72" font-size="10.3" text-anchor="end" fill="#222" textLength="12.60" lengthAdjust="spacingAndGlyphs" stroke="#222" stroke-width="0.1" >80</text>
<line x1="407" y1="107.50" x2="413.5" y2="107.50" stroke="#444" stroke-width="1"/>
<text x="401.50" y="112.30" font-size="10.3" text-anchor="end" fill="#222" textLength="20.40" lengthAdjust="spacingAndGlyphs" stroke="#222" stroke-width="0.1" >100</text>
<line x1="407" y1="69.50" x2="413.5" y2="69.50" stroke="#444" stroke-width="1"/>
<text x="401.50" y="73.88" font-size="10.3" text-anchor="end" fill="#222" textLength="20.40" lengthAdjust="spacingAndGlyphs" stroke="#222" stroke-width="0.1" >120</text>
<line x1="407" y1="31.50" x2="413.5" y2="31.50" stroke="#444" stroke-width="1"/>
<text x="401.50" y="35.46" font-size="10.3" text-anchor="end" fill="#222" textLength="20.40" lengthAdjust="spacingAndGlyphs" stroke="#222" stroke-width="0.1" >140</text>
<line x1="427.50" y1="310.5" x2="427.50" y2="317" stroke="#444" stroke-width="1"/>
<text x="427.40" y="329.20" font-size="10.3" text-anchor="middle" fill="#222" stroke="#222" stroke-width="0.1" >1</text>
<line x1="446.50" y1="310.5" x2="446.50" y2="317" stroke="#444" stroke-width="1"/>
<text x="446.17" y="329.20" font-size="10.3" text-anchor="middle" fill="#222" stroke="#222" stroke-width="0.1" >2</text>
<line x1="464.50" y1="310.5" x2="464.50" y2="317" stroke="#444" stroke-width="1"/>
<text x="464.94" y="329.20" font-size="10.3" text-anchor="middle" fill="#222" stroke="#222" stroke-width="0.1" >3</text>
<line x1="483.50" y1="310.5" x2="483.50" y2="317" stroke="#444" stroke-width="1"/>
<text x="483.71" y="329.20" font-size="10.3" text-anchor="middle" fill="#222" stroke="#222" stroke-width="0.1" >4</text>
<line x1="502.50" y1="310.5" x2="502.50" y2="317" stroke="#444" stroke-width="1"/>
<text x="502.48" y="329.20" font-size="10.3" text-anchor="middle" fill="#222" stroke="#222" stroke-width="0.1" >5</text>
<line x1="521.50" y1="310.5" x2="521.50" y2="317" stroke="#444" stroke-width="1"/>
<text x="521.25" y="329.20" font-size="10.3" text-anchor="middle" fill="#222" stroke="#222" stroke-width="0.1" >6</text>
<line x1="540.50" y1="310.5" x2="540.50" y2="317" stroke="#444" stroke-width="1"/>
<text x="540.02" y="329.20" font-size="10.3" text-anchor="middle" fill="#222" stroke="#222" stroke-width="0.1" >7</text>
<line x1="558.50" y1="310.5" x2="558.50" y2="317" stroke="#444" stroke-width="1"/>
<text x="558.79" y="329.20" font-size="10.3" text-anchor="middle" fill="#222" stroke="#222" stroke-width="0.1" >8</text>
<line x1="577.50" y1="310.5" x2="577.50" y2="317" stroke="#444" stroke-width="1"/>
<text x="577.56" y="329.20" font-size="10.3" text-anchor="middle" fill="#222" stroke="#222" stroke-width="0.1" >9</text>
<line x1="596.50" y1="310.5" x2="596.50" y2="317" stroke="#444" stroke-width="1"/>
<text x="596.33" y="329.20" font-size="10.3" text-anchor="middle" fill="#222" textLength="12.60" lengthAdjust="spacingAndGlyphs" stroke="#222" stroke-width="0.1" >10</text>
<line x1="615.50" y1="310.5" x2="615.50" y2="317" stroke="#444" stroke-width="1"/>
<text x="615.10" y="329.20" font-size="10.3" text-anchor="middle" fill="#222" textLength="12.60" lengthAdjust="spacingAndGlyphs" stroke="#222" stroke-width="0.1" >11</text>
<line x1="633.50" y1="310.5" x2="633.50" y2="317" stroke="#444" stroke-width="1"/>
<text x="633.87" y="329.20" font-size="10.3" text-anchor="middle" fill="#222" textLength="12.60" lengthAdjust="spacingAndGlyphs" stroke="#222" stroke-width="0.1" >12</text>
<line x1="652.50" y1="310.5" x2="652.50" y2="317" stroke="#444" stroke-width="1"/>
<text x="652.64" y="329.20" font-size="10.3" text-anchor="middle" fill="#222" textLength="12.60" lengthAdjust="spacingAndGlyphs" stroke="#222" stroke-width="0.1" >13</text>
<line x1="671.50" y1="310.5" x2="671.50" y2="317" stroke="#444" stroke-width="1"/>
<text x="671.41" y="329.20" font-size="10.3" text-anchor="middle" fill="#222" textLength="12.60" lengthAdjust="spacingAndGlyphs" stroke="#222" stroke-width="0.1" >14</text>
<line x1="690.50" y1="310.5" x2="690.50" y2="317" stroke="#444" stroke-width="1"/>
<text x="690.18" y="329.20" font-size="10.3" text-anchor="middle" fill="#222" textLength="12.60" lengthAdjust="spacingAndGlyphs" stroke="#222" stroke-width="0.1" >15</text>
<line x1="708.50" y1="310.5" x2="708.50" y2="317" stroke="#444" stroke-width="1"/>
<text x="708.95" y="329.20" font-size="10.3" text-anchor="middle" fill="#222" textLength="12.60" lengthAdjust="spacingAndGlyphs" stroke="#222" stroke-width="0.1" >16</text>
<line x1="727.50" y1="310.5" x2="727.50" y2="317" stroke="#444" stroke-width="1"/>
<text x="727.72" y="329.20" font-size="10.3" text-anchor="middle" fill="#222" textLength="12.60" lengthAdjust="spacingAndGlyphs" stroke="#222" stroke-width="0.1" >17</text>
<line x1="746.50" y1="310.5" x2="746.50" y2="317" stroke="#444" stroke-width="1"/>
<text x="746.49" y="329.20" font-size="10.3" text-anchor="middle" fill="#222" textLength="12.60" lengthAdjust="spacingAndGlyphs" stroke="#222" stroke-width="0.1" >18</text>
<line x1="765.50" y1="310.5" x2="765.50" y2="317" stroke="#444" stroke-width="1"/>
<text x="765.26" y="329.20" font-size="10.3" text-anchor="middle" fill="#222" textLength="12.60" lengthAdjust="spacingAndGlyphs" stroke="#222" stroke-width="0.1" >19</text>
<line x1="784.50" y1="310.5" x2="784.50" y2="317" stroke="#444" stroke-width="1"/>
<text x="784.03" y="329.20" font-size="10.3" text-anchor="middle" fill="#222" textLength="12.60" lengthAdjust="spacingAndGlyphs" stroke="#222" stroke-width="0.1" >20</text>
<circle cx="427.75" cy="25.00" r="3.8" fill="#f20000"/>
<circle cx="446.52" cy="30.00" r="3.8" fill="#f20000"/>
<circle cx="465.29" cy="31.00" r="3.8" fill="#f20000"/>
<circle cx="484.06" cy="36.90" r="3.8" fill="#f20000"/>
<circle cx="502.83" cy="53.50" r="3.8" fill="#f20000"/>
<circle cx="521.60" cy="57.30" r="3.8" fill="#f20000"/>
<circle cx="540.37" cy="61.40" r="3.8" fill="#f20000"/>
<circle cx="559.14" cy="62.50" r="3.8" fill="#f20000"/>
<circle cx="577.91" cy="63.20" r="3.8" fill="#f20000"/>
<circle cx="596.68" cy="63.85" r="3.8" fill="#f20000"/>
<circle cx="615.45" cy="66.10" r="3.8" fill="#f20000"/>
<circle cx="634.22" cy="71.30" r="3.8" fill="#f20000"/>
<circle cx="652.99" cy="119.20" r="3.8" fill="#f20000"/>
<circle cx="671.76" cy="299.60" r="3.8" fill="#f20000"/>
<circle cx="690.53" cy="299.60" r="3.8" fill="#f20000"/>
<circle cx="709.30" cy="299.60" r="3.8" fill="#f20000"/>
<circle cx="728.07" cy="299.60" r="3.8" fill="#f20000"/>
<circle cx="746.84" cy="299.60" r="3.8" fill="#f20000"/>
<circle cx="765.61" cy="299.60" r="3.8" fill="#f20000"/>
<circle cx="784.38" cy="299.60" r="3.8" fill="#f20000"/>
<text x="575.50" y="364.80" font-size="16.8" text-anchor="start" fill="#222" textLength="60.50" lengthAdjust="spacingAndGlyphs" stroke="#222" stroke-width="0.1" >Scaffold</text>
<text x="366.90" y="221.00" font-size="16.8" text-anchor="start" fill="#222" textLength="98.80" lengthAdjust="spacingAndGlyphs" transform="rotate(-90 366.90 221.00)" stroke="#222" stroke-width="0.1" >Length (Mbp)</text>
<text x="357.50" y="14.60" font-size="18.4" text-anchor="start" fill="#000" font-weight="bold" textLength="10.50" lengthAdjust="spacingAndGlyphs" stroke="#000" stroke-width="0.7">B</text>
<rect x="65.5" y="422.5" width="459.0" height="258.0" fill="#fff"/>
<line x1="147.80" y1="422.5" x2="147.80" y2="680.5" stroke="#b4bcbc" stroke-width="1.1"/>
<line x1="230.10" y1="422.5" x2="230.10" y2="680.5" stroke="#b4bcbc" stroke-width="1.1"/>
<line x1="312.40" y1="422.5" x2="312.40" y2="680.5" stroke="#b4bcbc" stroke-width="1.1"/>
<line x1="394.70" y1="422.5" x2="394.70" y2="680.5" stroke="#b4bcbc" stroke-width="1.1"/>
<line x1="477.00" y1="422.5" x2="477.00" y2="680.5" stroke="#b4bcbc" stroke-width="1.1"/>
<line x1="65.5" y1="624.33" x2="524.5" y2="624.33" stroke="#b4bcbc" stroke-width="1.1"/>
<line x1="65.5" y1="568.26" x2="524.5" y2="568.26" stroke="#b4bcbc" stroke-width="1.1"/>
<line x1="65.5" y1="512.19" x2="524.5" y2="512.19" stroke="#b4bcbc" stroke-width="1.1"/>
<line x1="65.5" y1="456.12" x2="524.5" y2="456.12" stroke="#b4bcbc" stroke-width="1.1"/>
<rect x="65.5" y="422.5" width="459.0" height="258.0" fill="none" stroke="#444" stroke-width="1"/>
<line x1="65.0" y1="680.5" x2="525.0" y2="680.5" stroke="#111" stroke-width="1.3"/>
<line x1="60.8" y1="680.40" x2="65.5" y2="680.40" stroke="#444" stroke-width="1"/>
<line x1="60.8" y1="624.33" x2="65.5" y2="624.33" stroke="#444" stroke-width="1"/>
<line x1="60.8" y1="568.26" x2="65.5" y2="568.26" stroke="#444" stroke-width="1"/>
<line x1="60.8" y1="512.19" x2="65.5" y2="512.19" stroke="#444" stroke-width="1"/>
<line x1="60.8" y1="456.12" x2="65.5" y2="456.12" stroke="#444" stroke-width="1"/>
<line x1="65.50" y1="680.5" x2="65.50" y2="684.4" stroke="#444" stroke-width="1"/>
<line x1="147.80" y1="680.5" x2="147.80" y2="684.4" stroke="#444" stroke-width="1"/>
<line x1="230.10" y1="680.5" x2="230.10" y2="684.4" stroke="#444" stroke-width="1"/>
<line x1="312.40" y1="680.5" x2="312.40" y2="684.4" stroke="#444" stroke-width="1"/>
<line x1="394.70" y1="680.5" x2="394.70" y2="684.4" stroke="#444" stroke-width="1"/>
<line x1="477.00" y1="680.5" x2="477.00" y2="684.4" stroke="#444" stroke-width="1"/>
<text x="53.80" y="684.20" font-size="10.2" text-anchor="end" fill="#222" stroke="#222" stroke-width="0.1" >0</text>
<text x="52.20" y="628.13" font-size="10.2" text-anchor="end" fill="#222" textLength="19.60" lengthAdjust="spacingAndGlyphs" stroke="#222" stroke-width="0.1" >400</text>
<text x="52.40" y="572.06" font-size="10.2" text-anchor="end" fill="#222" textLength="19.60" lengthAdjust="spacingAndGlyphs" stroke="#222" stroke-width="0.1" >800</text>
<text x="51.00" y="515.99" font-size="10.2" text-anchor="end" fill="#222" textLength="27.40" lengthAdjust="spacingAndGlyphs" stroke="#222" stroke-width="0.1" >1200</text>
<text x="51.00" y="459.92" font-size="10.2" text-anchor="end" fill="#222" textLength="27.40" lengthAdjust="spacingAndGlyphs" stroke="#222" stroke-width="0.1" >1600</text>
<text x="65.50" y="697.60" font-size="10.2" text-anchor="middle" fill="#222" stroke="#222" stroke-width="0.1" >0</text>
<text x="147.80" y="697.60" font-size="10.2" text-anchor="middle" fill="#222" textLength="19.20" lengthAdjust="spacingAndGlyphs" stroke="#222" stroke-width="0.1" >400</text>
<text x="230.10" y="697.60" font-size="10.2" text-anchor="middle" fill="#222" textLength="19.20" lengthAdjust="spacingAndGlyphs" stroke="#222" stroke-width="0.1" >800</text>
<text x="312.40" y="697.60" font-size="10.2" text-anchor="middle" fill="#222" textLength="25.60" lengthAdjust="spacingAndGlyphs" stroke="#222" stroke-width="0.1" >1200</text>
<text x="394.70" y="697.60" font-size="10.2" text-anchor="middle" fill="#222" textLength="25.60" lengthAdjust="spacingAndGlyphs" stroke="#222" stroke-width="0.1" >1600</text>
<text x="477.00" y="697.60" font-size="10.2" text-anchor="middle" fill="#222" textLength="25.60" lengthAdjust="spacingAndGlyphs" stroke="#222" stroke-width="0.1" >2000</text>
<polyline points="65.6,680.4 67.4,449.5 100,448.9 140,448.3 180,448.0 260,447.2 340,446.6 430,446.4 524.6,446.2" fill="none" stroke="#d4141e" stroke-opacity="0.92" stroke-width="2.5" stroke-linejoin="miter"/>
<text x="263.90" y="724.75" font-size="15.3" text-anchor="start" fill="#222" textLength="61.60" lengthAdjust="spacingAndGlyphs" stroke="#222" stroke-width="0.1" >Scaffold</text>
<text x="15.30" y="642.20" font-size="15.6" text-anchor="start" fill="#222" textLength="182.00" lengthAdjust="spacingAndGlyphs" transform="rotate(-90 15.30 642.20)" stroke="#222" stroke-width="0.1" >Cumulative length (Mbp)</text>
<text x="6.50" y="424.20" font-size="18.6" text-anchor="start" fill="#000" font-weight="bold" textLength="11.20" lengthAdjust="spacingAndGlyphs" stroke="#000" stroke-width="0.7">C</text>
</svg>
</body></html>
